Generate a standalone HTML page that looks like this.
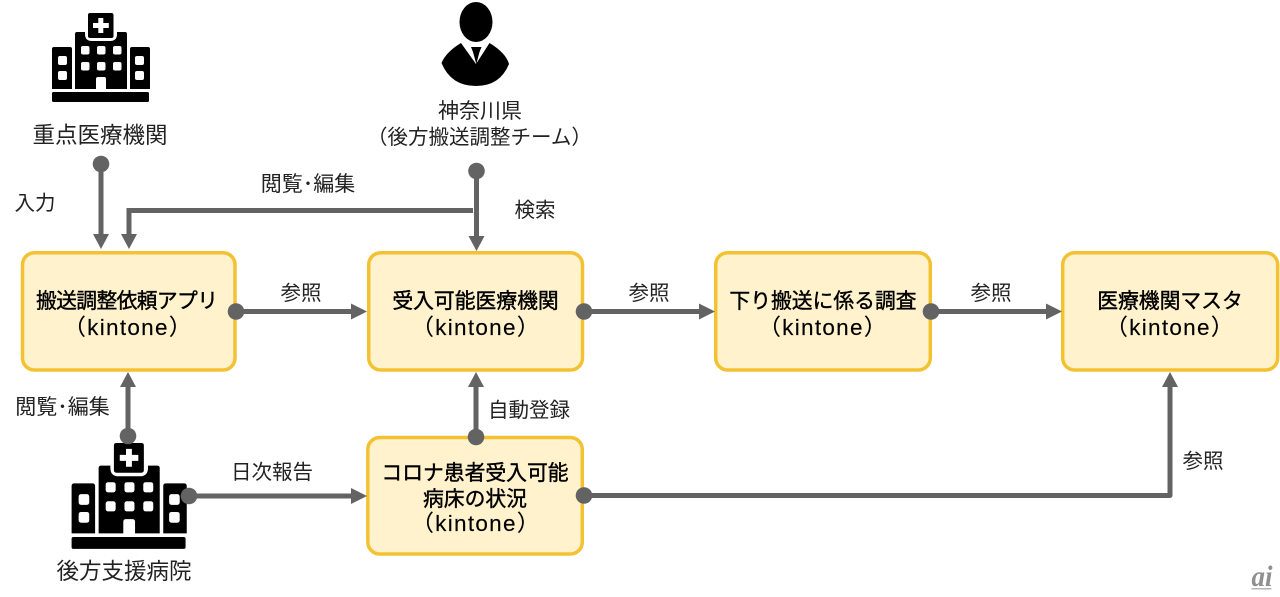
<!DOCTYPE html>
<html lang="ja"><head><meta charset="utf-8"><style>
html,body{margin:0;padding:0;background:#fff;width:1280px;height:597px;overflow:hidden}
svg{display:block}
text{font-family:"Liberation Sans","Noto Sans CJK JP",sans-serif;fill:#111;text-anchor:middle}
.b{font-size:20.8px;font-weight:400;fill:#000;stroke:#000;stroke-width:.4}
.k{font-size:22.5px;letter-spacing:1.3px;fill:#000;stroke:#000;stroke-width:.15}
.l{font-size:20.5px;fill:#222}
.e{font-size:21px;fill:#222}
.h{font-size:22.5px;fill:#222}
.ln{stroke:#636363;stroke-width:5;fill:none}
.d{fill:#636363}
.box{fill:#fff2cc;stroke:#f3c233;stroke-width:3.5}
</style></head><body>
<svg width="1280" height="597" viewBox="0 0 1280 597" xmlns="http://www.w3.org/2000/svg">
<defs>
<g id="hosp">
<path d="M54 47h16a2 2 0 0 1 2 2v40H52V49a2 2 0 0 1 2-2zM132 47h16a2 2 0 0 1 2 2v40h-20V49a2 2 0 0 1 2-2z" fill="#000"/>
<path d="M77 32h8v2q0 7 7 7h18q7 0 7-7v-2h8a2 2 0 0 1 2 2v55H75V34a2 2 0 0 1 2-2z" fill="#000"/>
<path d="M96 90V79a2 2 0 0 1 2-2h6a2 2 0 0 1 2 2v11z" fill="#fff"/>
<rect x="88" y="13" width="25.500" height="25" rx="2" fill="#000"/>
<path d="M98.300 18h5v5h5.500v5h-5.500v5h-5v-5H93v-5h5.300z" fill="#fff"/>
<rect x="52" y="92" width="97" height="10" rx="1.500" fill="#000"/>
<g fill="#fff">
<rect x="81" y="46" width="8.500" height="8.500" rx="2"/><rect x="97" y="46" width="8.500" height="8.500" rx="2"/><rect x="113" y="46" width="8.500" height="8.500" rx="2"/>
<rect x="81" y="62" width="8.500" height="8.500" rx="2"/><rect x="97" y="62" width="8.500" height="8.500" rx="2"/><rect x="113" y="62" width="8.500" height="8.500" rx="2"/>
<rect x="58" y="56" width="9" height="9" rx="2"/><rect x="58" y="71" width="9" height="9" rx="2"/>
<rect x="135" y="56" width="9" height="9" rx="2"/><rect x="135" y="71" width="9" height="9" rx="2"/>
</g>
</g>
</defs>

<use href="#hosp"/>
<use href="#hosp" transform="translate(10.500 427.500) scale(1.175 1.19)"/>

<!-- person -->
<ellipse cx="476" cy="22" rx="16.500" ry="20" fill="#000"/>
<path d="M461 43 L476 64 L489.500 43 Q506 53 509 64 Q500 86 476 86 Q451 86 441.500 63 Q446 52 461 43Z" fill="#000"/>
<path d="M471 47h10.500l-2 5 -3.200 12 -3.300-12z" fill="#000"/>

<!-- boxes -->
<rect class="box" x="22.500" y="252.700" width="212.500" height="117.300" rx="12"/>
<rect class="box" x="368.700" y="252.700" width="213.800" height="117.300" rx="12"/>
<rect class="box" x="715.700" y="252.700" width="214.600" height="117.300" rx="12"/>
<rect class="box" x="1062.700" y="252.700" width="215" height="117.300" rx="12"/>
<rect class="box" x="367.800" y="437.500" width="214.500" height="116.500" rx="12"/>

<!-- connectors -->
<path class="ln" d="M101 163V236"/>
<path class="d" d="M93 234h16l-8 15z"/>
<circle class="d" cx="101" cy="164" r="8.300"/>
<path class="ln" d="M473 210.500H129V236"/>
<path class="d" d="M121 234h16l-8 15z"/>
<path class="ln" d="M476.500 170V236"/>
<path class="d" d="M468.500 236h16l-8 15z"/>
<circle class="d" cx="476.500" cy="171" r="8.300"/>

<path class="ln" d="M236 311.500H352"/>
<path class="d" d="M351 303.500v16l16-8z"/>
<circle class="d" cx="236" cy="311.500" r="8.300"/>

<path class="ln" d="M584 311.500H700"/>
<path class="d" d="M699 303.500v16l16-8z"/>
<circle class="d" cx="584" cy="311.500" r="8.300"/>

<path class="ln" d="M931 311.500H1047"/>
<path class="d" d="M1046 303.500v16l16-8z"/>
<circle class="d" cx="931" cy="311.500" r="8.300"/>

<path class="ln" d="M128 436V386"/>
<path class="d" d="M120 387h16l-8-15z"/>
<circle class="d" cx="128" cy="436" r="8.300"/>

<path class="ln" d="M189 496H352"/>
<path class="d" d="M351 488v16l16-8z"/>
<circle class="d" cx="189" cy="496" r="8.300"/>

<path class="ln" d="M476 437V386"/>
<path class="d" d="M468 387h16l-8-15z"/>
<circle class="d" cx="476" cy="437" r="8.300"/>

<path class="ln" d="M584 495.500H1170V386" stroke-linejoin="round"/>
<path class="d" d="M1162 387h16l-8-15z"/>
<circle class="d" cx="584" cy="495.500" r="8.300"/>

<!-- headings -->
<text class="h" x="100" y="143">重点医療機関</text>
<text class="l" x="480" y="118" style="font-size:21px">神奈川県</text>
<text class="l" x="479.500" y="144" style="font-size:20.500px">（後方搬送調整チーム）</text>
<text class="h" x="124" y="579">後方支援病院</text>

<!-- edge labels -->
<text class="l" x="35" y="210">入力</text>
<text class="e" x="308" y="191">閲覧･編集</text>
<text class="l" x="535" y="217">検索</text>
<text class="l" x="301" y="300">参照</text>
<text class="l" x="649" y="300">参照</text>
<text class="l" x="991" y="300">参照</text>
<text class="e" x="62.500" y="414">閲覧･編集</text>
<text class="l" x="529" y="417">自動登録</text>
<text class="l" x="272" y="479">日次報告</text>
<text class="l" x="1203" y="468">参照</text>

<!-- box labels -->
<text class="b" x="127" y="308" textLength="182">搬送調整依頼アプリ</text>
<text class="k" x="128" y="335">（kintone）</text>
<text class="b" x="475.500" y="308">受入可能医療機関</text>
<text class="k" x="476" y="335">（kintone）</text>
<text class="b" x="823" y="308">下り搬送に係る調査</text>
<text class="k" x="823" y="335">（kintone）</text>
<text class="b" x="1170" y="308">医療機関マスタ</text>
<text class="k" x="1170" y="335">（kintone）</text>
<text class="b" x="475" y="480">コロナ患者受入可能</text>
<text class="b" x="475" y="506">病床の状況</text>
<text class="k" x="476" y="531">（kintone）</text>

<!-- watermark -->
<text x="1262" y="586" textLength="21" lengthAdjust="spacingAndGlyphs" style="font-family:'Liberation Serif',serif;font-style:italic;font-weight:700;font-size:30px;fill:#8f8f8f">ai</text>
<rect x="1251.500" y="588" width="20" height="1.500" fill="#b5b5b5"/>
</svg>
</body></html>
